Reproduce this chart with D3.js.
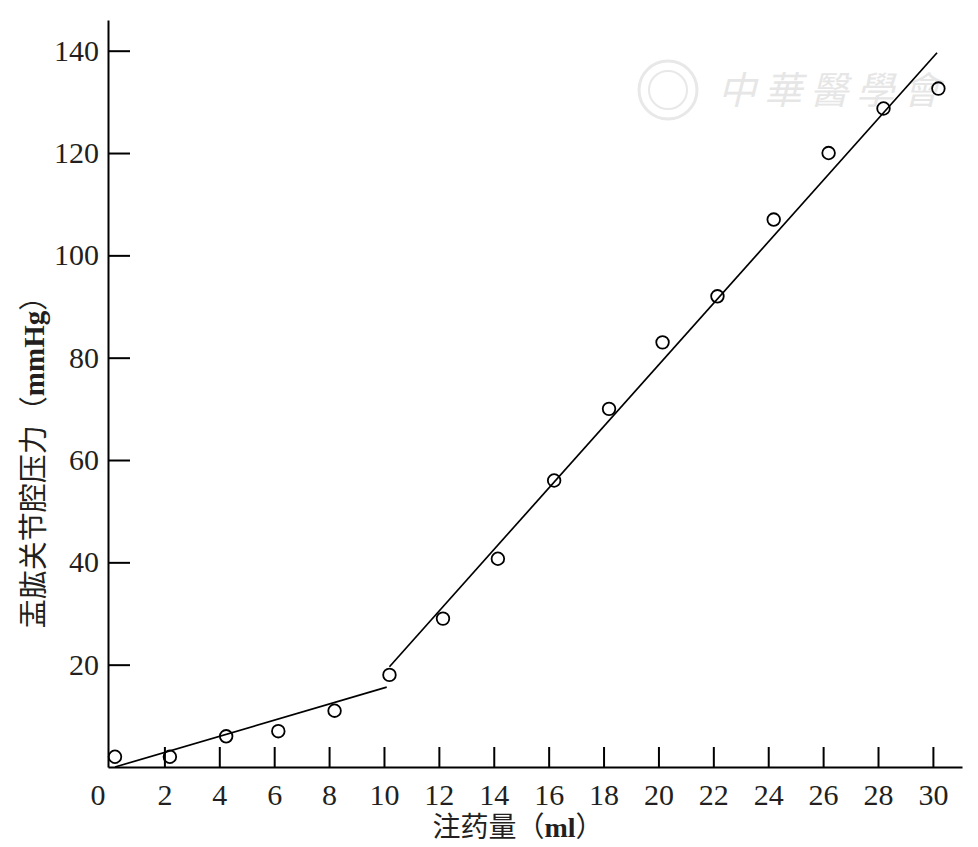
<!DOCTYPE html>
<meta charset="utf-8">
<script src="https://d3js.org/d3.v7.min.js"></script>
<style>
  body { margin: 0; background: #fff; }
  .tick line, .domain { stroke: #000; stroke-width: 2px; }
</style>
<div id="chart"></div>
<script>
// volume injected (ml) and measured pressure (mmHg)
var volume   = [0.2, 2.2, 4.25, 6.15, 8.2, 10.2, 12.15, 14.15, 16.2, 18.2, 20.15, 22.15, 24.2, 26.2, 28.2, 30.2];
var pressure = [2, 2, 6, 7, 11, 18, 29, 40.7, 56, 70, 83, 92, 107, 120, 128.7, 132.6];

// two fitted line segments
var fitLow  = [[0.2, 0], [10.1, 15.6]];
var fitHigh = [[10.2, 19.6], [30.15, 139.6]];

var xTicks = [0, 2, 4, 6, 8, 10, 12, 14, 16, 18, 20, 22, 24, 26, 28, 30];
var yTicks = [20, 40, 60, 80, 100, 120, 140];

var width = 978, height = 847;

var svg = d3.select("#chart").append("svg")
    .attr("width", width)
    .attr("height", height);

var x = d3.scaleLinear().domain([-0.055, 31.06]).range([108, 962]);
var y = d3.scaleLinear().domain([0, 146]).range([767, 20]);

// faint watermark
var wm = svg.append("g").attr("fill", "none").attr("stroke", "#e8e8e8");
wm.append("circle").attr("cx", 668).attr("cy", 90).attr("r", 29).attr("stroke-width", 3);
wm.append("circle").attr("cx", 668).attr("cy", 90).attr("r", 19).attr("stroke-width", 2);
svg.append("text")
    .attr("x", 718).attr("y", 104)
    .attr("font-family", "Noto Sans CJK SC")
    .attr("font-size", 38)
    .attr("font-style", "italic")
    .attr("letter-spacing", 8)
    .attr("fill", "#e6e6e6")
    .text("中華醫學會");

// x axis
var xAxis = svg.append("g")
    .attr("transform", "translate(0," + y(0) + ")")
    .call(d3.axisBottom(x).tickValues(xTicks).tickSize(-20).tickSizeOuter(0).tickPadding(17).tickFormat(d3.format("d")));
xAxis.selectAll(".tick").filter(function(d) { return d === 0; })
    .each(function() {
      d3.select(this).select("line").remove();
      d3.select(this).select("text").attr("x", -12);
    });

// y axis
var yAxis = svg.append("g")
    .attr("transform", "translate(" + x(-0.055) + ",0)")
    .call(d3.axisLeft(y).tickValues(yTicks).tickSize(-22).tickSizeOuter(0).tickPadding(9).tickFormat(d3.format("d")));

svg.selectAll(".tick text")
    .attr("font-family", "Liberation Serif")
    .attr("font-size", 30)
    .attr("fill", "#231f20");

// fitted lines
var line = d3.line().x(function(d) { return x(d[0]); }).y(function(d) { return y(d[1]); });
[fitLow, fitHigh].forEach(function(seg) {
  svg.append("path")
    .attr("d", line(seg))
    .attr("fill", "none")
    .attr("stroke", "#000")
    .attr("stroke-width", 1.7);
});

// data points
svg.append("g").selectAll("circle")
  .data(volume)
  .enter().append("circle")
    .attr("cx", function(d) { return x(d); })
    .attr("cy", function(d, i) { return y(pressure[i]); })
    .attr("r", 6.3)
    .attr("fill", "none")
    .attr("stroke", "#000")
    .attr("stroke-width", 1.8);

// axis titles
var xt = svg.append("text")
    .attr("x", 518).attr("y", 837)
    .attr("text-anchor", "middle")
    .attr("fill", "#231f20")
    .attr("font-size", 28);
xt.append("tspan").attr("font-family", "Noto Sans CJK SC").text("注药量（");
xt.append("tspan").attr("font-family", "Liberation Serif").attr("font-weight", "bold").text("ml");
xt.append("tspan").attr("font-family", "Noto Sans CJK SC").text("）");

var yt = svg.append("text")
    .attr("transform", "translate(44,455) rotate(-90)")
    .attr("text-anchor", "middle")
    .attr("fill", "#231f20")
    .attr("font-size", 29);
yt.append("tspan").attr("font-family", "Noto Sans CJK SC").text("盂肱关节腔压力（");
yt.append("tspan").attr("font-family", "Liberation Serif").attr("font-weight", "bold").text("mmHg");
yt.append("tspan").attr("font-family", "Noto Sans CJK SC").text("）");
</script>
